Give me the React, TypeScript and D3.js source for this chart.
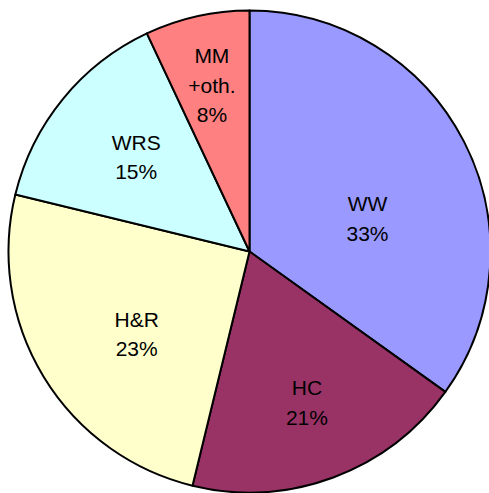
import React from 'react';
import * as d3 from 'd3';

// slice shares as drawn (angles) and the printed labels
const categories = ['WW', 'HC', 'H&R', 'WRS', 'MM\n+oth.'];
const values = [34.9, 18.9, 25.0, 14.2, 7.0];
const percentLabels = ['33%', '21%', '23%', '15%', '8%'];
const colors = ['#9999FF', '#993366', '#FFFFCC', '#CCFFFF', '#FF8080'];

// small nudges so labels sit where Excel put them
const labelNudge: [number, number][] = [[-11, 33], [7, 15], [11, 7], [-1, -3], [-6, -25]];

const width = 489;
const height = 493;
const cx = 249.5;
const cy = 251.5;
const radius = 241;
const lineH = 29.5;

const App: React.FC = () => {
  const pie = d3.pie<number>().value(d => d).sort(null);
  const arcs = pie(values);
  const arc = d3.arc<d3.PieArcDatum<number>>().innerRadius(0).outerRadius(radius);
  const labelArc = d3.arc<d3.PieArcDatum<number>>().innerRadius(145).outerRadius(145);

  return (
    <svg width={width} height={height}
      style={{ position: 'absolute', left: 0, top: 0, background: '#fff' }}>
      <g transform={`translate(${cx},${cy})`}>
        {arcs.map((a, i) => (
          <path key={i} d={arc(a) || ''} fill={colors[i]} stroke="#000" strokeWidth={2}
            strokeLinejoin="round" />
        ))}
        {arcs.map((a, i) => {
          const [x, y] = labelArc.centroid(a);
          const lines = [...categories[i].split('\n'), percentLabels[i]];
          const px = x + labelNudge[i][0];
          const py = y + labelNudge[i][1];
          const firstBase = py + 7.5 - ((lines.length - 1) * lineH) / 2;
          return (
            <text key={'t' + i} textAnchor="middle" fontFamily="Arial, 'Liberation Sans', sans-serif"
              fontSize={21} fill="#000">
              {lines.map((l, j) => (
                <tspan key={j} x={px} y={firstBase + j * lineH}>{l}</tspan>
              ))}
            </text>
          );
        })}
      </g>
    </svg>
  );
};

export default App;
